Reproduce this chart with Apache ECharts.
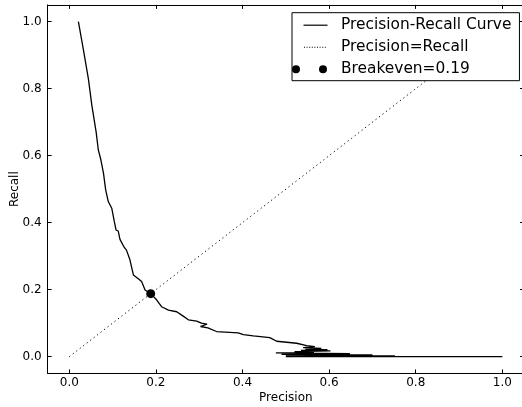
<!DOCTYPE html>
<html>
<head>
<meta charset="utf-8">
<title>Precision-Recall</title>
<script src="https://cdn.jsdelivr.net/npm/echarts@6.0.0/dist/echarts.min.js"></script>
<style>
  html, body { margin: 0; padding: 0; background: #fff; }
  #chart { width: 522px; height: 407px; }
</style>
</head>
<body>
<div id="chart"></div>
<script type="text/javascript">
// values
var precisionVals = [0.021, 0.032, 0.044, 0.052, 0.062, 0.067, 0.073, 0.079, 0.084, 0.090,
  0.098, 0.104, 0.108, 0.113, 0.117, 0.127, 0.132, 0.140, 0.148, 0.160,
  0.167, 0.175, 0.188, 0.202, 0.213, 0.229, 0.248, 0.263, 0.275, 0.294,
  0.305, 0.318, 0.303, 0.320, 0.340, 0.390, 0.402, 0.425, 0.463, 0.479,
  0.525, 0.548, 0.567, 0.540, 0.582, 0.545, 0.596, 0.535, 0.603, 0.520,
  0.565, 0.477, 0.648, 0.490, 0.700, 0.500, 0.752, 0.500, 1.000];
var recallVals = [1.000, 0.920, 0.830, 0.751, 0.670, 0.617, 0.587, 0.547, 0.498, 0.463,
  0.443, 0.403, 0.378, 0.375, 0.350, 0.326, 0.318, 0.289, 0.244, 0.232,
  0.224, 0.199, 0.188, 0.169, 0.149, 0.139, 0.134, 0.121, 0.110, 0.106,
  0.100, 0.097, 0.090, 0.086, 0.075, 0.071, 0.066, 0.062, 0.057, 0.046,
  0.040, 0.033, 0.030, 0.027, 0.025, 0.022, 0.021, 0.019, 0.017, 0.015,
  0.013, 0.011, 0.009, 0.007, 0.005, 0.003, 0.002, 0.000, 0.000];
var diagX = [0, 1];
var diagY = [0, 1];
var breakeven = 0.188;
var tickVals = [0, 0.2, 0.4, 0.6, 0.8, 1.0];
var seriesNames = ['Precision-Recall Curve', 'Precision=Recall', 'Breakeven=0.19'];

function pairs(xs, ys) {
  var out = [];
  for (var i = 0; i < xs.length; i++) out.push([xs[i], ys[i]]);
  return out;
}

// legend handles, 36 x 14 box (the lone moves fix the box)
var boxPath = 'M0,0 M36,14 ';
var iconLine = 'path://' + boxPath + 'M11.5,6.4 L35.5,6.4 L35.5,7.6 L11.5,7.6 Z';
var dots = '';
for (var dx = 12; dx < 35; dx += 2.6) {
  dots += 'M' + dx + ',6.5 h1 v1 h-1 Z ';
}
var iconDots = 'path://' + boxPath + dots;
var iconMarks = 'path://' + boxPath +
  'M0,7 a4,4 0 1,0 8,0 a4,4 0 1,0 -8,0 Z M27,7 a4,4 0 1,0 8,0 a4,4 0 1,0 -8,0 Z';

var font = 'DejaVu Sans';

function valueAxis(pos, withLabels, extra) {
  var ax = {
    type: 'value',
    position: pos,
    min: -0.05,
    max: 1.05,
    splitLine: { show: false },
    axisLine: { show: true, onZero: false, lineStyle: { color: '#000', width: 1 } },
    axisTick: { show: true, inside: true, length: 4, customValues: tickVals,
      lineStyle: { color: '#000', width: 1 } },
    axisLabel: { show: withLabels, customValues: tickVals, color: '#000',
      fontFamily: font, fontSize: 12,
      formatter: function (v) { return v.toFixed(1); } }
  };
  for (var k in extra) ax[k] = extra[k];
  return ax;
}

var xMain = valueAxis('bottom', true, {
  name: 'Precision', nameLocation: 'middle', nameGap: 18, nameMoveOverlap: false,
  nameTextStyle: { color: '#000', fontFamily: font, fontSize: 12 }
});
xMain.axisLabel.margin = 3;
var yMain = valueAxis('left', true, {
  name: 'Recall', nameLocation: 'middle', nameGap: 27, nameMoveOverlap: false,
  nameTextStyle: { color: '#000', fontFamily: font, fontSize: 12 }
});
yMain.axisLabel.margin = 6;

var chart = echarts.init(document.getElementById('chart'), null, { renderer: 'canvas' });
var option = {
  animation: false,
  backgroundColor: '#fff',
  grid: { left: 47.65, top: 4.9, right: -2, bottom: 33.6, containLabel: false,
    outerBoundsMode: 'none' },
  xAxis: [xMain, valueAxis('top', false, {})],
  yAxis: [yMain, valueAxis('right', false, {})],
  legend: {
    orient: 'vertical',
    left: 292,
    top: 12.7,
    padding: [4, 8, 3, 0],
    itemWidth: 36,
    itemHeight: 14,
    itemGap: 5,
    backgroundColor: '#fff',
    borderColor: '#000',
    borderWidth: 1,
    borderRadius: 0,
    z: 10,
    textStyle: { color: '#000', fontFamily: font, fontSize: 15.4, lineHeight: 17,
      padding: [0, 0, 0, 8] },
    data: [
      { name: seriesNames[0], icon: iconLine, itemStyle: { color: '#000', borderWidth: 0, opacity: 1 } },
      { name: seriesNames[1], icon: iconDots, itemStyle: { color: '#000', borderWidth: 0, opacity: 1 } },
      { name: seriesNames[2], icon: iconMarks, itemStyle: { color: '#000', borderWidth: 0, opacity: 1 } }
    ]
  },
  series: [
    {
      name: seriesNames[0],
      type: 'line',
      data: pairs(precisionVals, recallVals),
      symbol: 'none',
      color: '#000',
      lineStyle: { color: '#000', width: 1.3 },
      z: 3
    },
    {
      name: seriesNames[1],
      type: 'line',
      data: pairs(diagX, diagY),
      symbol: 'none',
      color: '#000',
      lineStyle: { color: '#000', width: 1, type: [1.2, 3.2] },
      z: 2
    },
    {
      name: seriesNames[2],
      type: 'scatter',
      data: [[breakeven, breakeven]],
      symbol: 'circle',
      symbolSize: 9,
      color: '#000',
      itemStyle: { color: '#000', opacity: 1 },
      z: 4
    }
  ]
};
chart.setOption(option);
</script>
</body>
</html>
